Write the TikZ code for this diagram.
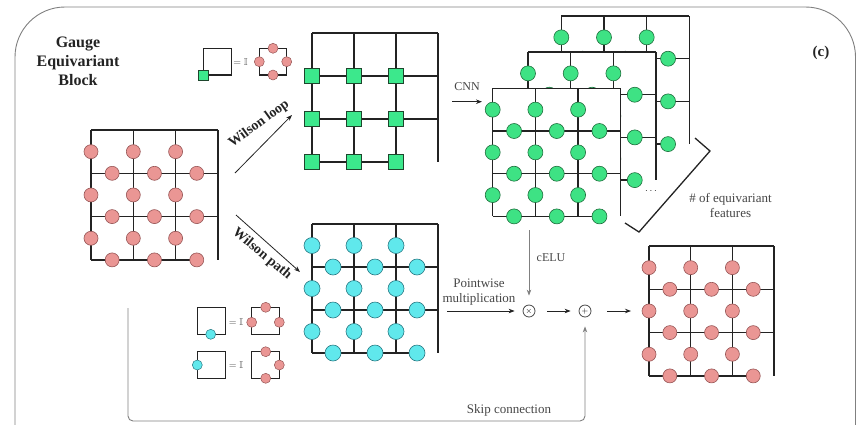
\documentclass[tikz,border=0pt]{standalone}
\usepackage{amssymb}
\usepackage{fontspec}
\setmainfont{Liberation Serif}
\usetikzlibrary{arrows.meta, calc}

\definecolor{gridgray}{RGB}{35,35,35}
\definecolor{linkpink}{RGB}{234,150,148}
\definecolor{pinkedge}{RGB}{150,85,85}
\definecolor{sitegreen}{RGB}{60,232,140}
\definecolor{greenedge}{RGB}{30,70,45}
\definecolor{featgreen}{RGB}{62,226,132}
\definecolor{featedge}{RGB}{30,110,60}
\definecolor{pathcyan}{RGB}{96,232,236}
\definecolor{cyanedge}{RGB}{40,120,130}
\definecolor{labelgray}{RGB}{70,70,70}

% one 3x3 lattice with a dot on every link
\newcommand{\latgrid}[6]{%
  \begin{scope}[shift={(#2,#3)}, x=#4pt, y=-#5pt]
    \fill[white] (0,0) rectangle (3,3);
    \draw[gridline] (0,0) -- (3,0);
    \foreach \i in {0,1,2} \draw[gridline] (\i,0) -- (\i,3);
    \foreach \j in {1,2} \draw[gridline] (0,\j) -- (3,\j);
    \draw[gridline] (0,3) -- (2.5,3);
    \draw[gridline] (3,0) -- (3,3);
    \foreach \i in {0,1,2} \foreach \j in {0,1,2} {
      \node[#6] (#1-v\i\j) at (\i,\j+0.5) {};
      \node[#6] (#1-h\i\j) at (\i+0.5,\j+1) {};
    }
  \end{scope}}

\begin{document}
\begin{tikzpicture}[x=1pt, y=-1pt, >={Stealth[length=6pt,width=4.5pt]},
    gridline/.style={line width=1.3pt, draw=gridgray},
    pinkdot/.style={circle, inner sep=0pt, minimum size=14pt, fill=linkpink, draw=pinkedge, line width=0.6pt},
    minipink/.style={circle, inner sep=0pt, minimum size=10pt, fill=linkpink, draw=pinkedge, line width=0.5pt},
    cyandot/.style={circle, inner sep=0pt, minimum size=16pt, fill=pathcyan, draw=cyanedge, line width=0.6pt},
    minicyan/.style={circle, inner sep=0pt, minimum size=10pt, fill=pathcyan, draw=cyanedge, line width=0.5pt},
    greendot/.style={circle, inner sep=0pt, minimum size=15pt, fill=featgreen, draw=featedge, line width=0.6pt},
    sitebox/.style={rectangle, inner sep=0pt, minimum size=15pt, fill=sitegreen, draw=greenedge, line width=0.8pt},
    minisite/.style={rectangle, inner sep=0pt, minimum size=10pt, fill=sitegreen, draw=greenedge, line width=0.6pt},
    iconline/.style={line width=1.1pt, draw=gridgray},
    opnode/.style={circle, draw=labelgray, line width=0.8pt, minimum size=12pt, inner sep=0pt, font=\fontsize{8}{8}\selectfont},
    label/.style={text=labelgray, font=\fontsize{13}{15}\selectfont, align=center},
    eqtext/.style={text=labelgray, inner sep=1pt, font=\fontsize{10}{10}\selectfont},
    wilson/.style={text=gridgray, inner sep=1pt, font=\bfseries\fontsize{14}{14}\selectfont}]

  \useasboundingbox (0,0) rectangle (858,424);
  \clip (0,0) rectangle (858,424);

  % frame
  \draw[gray, line width=0.9pt, rounded corners=50pt] (15,460) -- (15,7) -- (855.5,7) -- (855.5,460);

  \node[font=\bfseries\fontsize{16}{19}\selectfont, text=gridgray, align=center] (title) at (78,61) {Gauge\\Equivariant\\Block};
  \node[font=\bfseries\fontsize{15}{15}\selectfont, text=gridgray] (tag) at (821,53) {(c)};

  % input field
  \latgrid{in}{91}{130}{42.3}{43.3}{pinkdot}

  % Wilson loop branch
  \begin{scope}[shift={(312,33)}, x=42pt, y=-43pt]
    \draw[gridline] (0,0) -- (3,0);
    \foreach \i in {0,1,2} \draw[gridline] (\i,0) -- (\i,3);
    \draw[gridline] (3,0) -- (3,3);
    \foreach \j in {1,2} \draw[gridline] (0,\j) -- (3,\j);
    \draw[gridline] (0,3) -- (2,3);
    \foreach \i in {0,1,2} \foreach \j in {1,2,3}
      \node[sitebox] (wl-s\i\j) at (\i,\j) {};
  \end{scope}

  \coordinate (wl-a) at (235,173);
  \coordinate (wl-b) at (292,115);
  \draw[->, gridgray, line width=0.8pt] (wl-a) -- (wl-b);
  \node[wilson, rotate=36] (wl-txt) at (259,124) {Wilson loop};

  \coordinate (wp-a) at (236,215);
  \coordinate (wp-b) at (300,272);
  \draw[->, gridgray, line width=0.8pt] (wp-a) -- (wp-b);
  \node[wilson, rotate=-40] (wp-txt) at (262,254) {Wilson path};

  % small icons
  \draw[iconline] (203.3,48.3) rectangle (231.7,75);
  \node[minisite] (ic1-s) at (203.3,75) {};
  \node[eqtext] (ic1-eq) at (240.5,62) {$=\mathbb{I}$};
  \draw[iconline] (259.3,48.3) rectangle (286.7,75);
  \node[minipink] (ic1-t) at (273,48.3) {};
  \node[minipink] (ic1-l) at (259.3,61.7) {};
  \node[minipink] (ic1-r) at (286.7,61.7) {};
  \node[minipink] (ic1-b) at (273,75) {};

  \draw[iconline] (197.3,307.3) rectangle (225.7,334.3);
  \node[minicyan] (ic2-c) at (210.7,334.3) {};
  \node[eqtext] (ic2-eq) at (236,322) {$=\mathbb{I}$};
  \draw[iconline] (251.7,307.3) rectangle (279.3,334.3);
  \node[minipink] (ic2-t) at (265.7,307.3) {};
  \node[minipink] (ic2-l) at (251.7,322.3) {};
  \node[minipink] (ic2-r) at (279.3,322.3) {};

  \draw[iconline] (197.3,351.7) rectangle (225.7,378.3);
  \node[minicyan] (ic3-c) at (197.3,365) {};
  \node[eqtext] (ic3-eq) at (236,365) {$=\mathbb{I}$};
  \draw[iconline] (251.7,351.7) rectangle (279.3,378.3);
  \node[minipink] (ic3-t) at (265.7,351.7) {};
  \node[minipink] (ic3-r) at (279.3,365) {};
  \node[minipink] (ic3-b) at (265.7,378.3) {};

  % Wilson path branch
  \latgrid{wp}{312}{224}{42}{43}{cyandot}

  % CNN feature stack, back to front
  \coordinate (cnn-a) at (452,101.7);
  \coordinate (cnn-b) at (482,101.7);
  \draw[->, gridgray, line width=0.8pt] (cnn-a) -- (cnn-b);
  \node[label, font=\fontsize{12}{12}\selectfont] (cnn) at (467,87) {CNN};

  \latgrid{f3}{561.3}{16}{42.7}{42.7}{greendot}
  \latgrid{f2}{528}{52}{42.7}{42.7}{greendot}
  \latgrid{f1}{492.7}{88.3}{42.7}{42.7}{greendot}

  \node[gridgray] (dots) at (651,191) {$\cdots$};
  \draw[gridline] (695,138) -- (710,151) -- (639,232) -- (625,223);
  \node[label] (nfeat) at (730.5,205) {\# of equivariant\\features};

  % combination
  \node[opnode] (mul) at (529,311) {$\times$};
  \node[opnode] (add) at (585,311) {$+$};
  \coordinate (pw-a) at (447,311);
  \coordinate (front-s) at (529,216);
  \coordinate (out-w) at (649,311);

  \draw[->, gridgray, line width=0.8pt, shorten >=8pt] (pw-a) -- (mul);
  \node[label] (pw) at (479,292) {Pointwise\\multiplication};
  \draw[->, gray, line width=0.8pt, shorten <=14pt, shorten >=9pt] (front-s) -- (mul);
  \node[label, font=\fontsize{12}{12}\selectfont] (celu) at (551,258) {cELU};
  \draw[->, gridgray, line width=0.8pt, shorten <=12pt, shorten >=8pt] (mul) -- (add);
  \draw[->, gridgray, line width=0.8pt, shorten <=16pt, shorten >=18pt] (add) -- (out-w);

  % output field
  \latgrid{out}{649}{246}{41.7}{43.3}{pinkdot}

  % skip connection
  \coordinate (skip-a) at (128,308);
  \coordinate (skip-b) at (128,421);
  \draw[->, gray, line width=0.9pt, rounded corners=5pt, shorten >=9pt] (skip-a) -- (skip-b) -| (add);
  \node[label] (skip) at (509,410) {Skip connection};
\end{tikzpicture}
\end{document}
